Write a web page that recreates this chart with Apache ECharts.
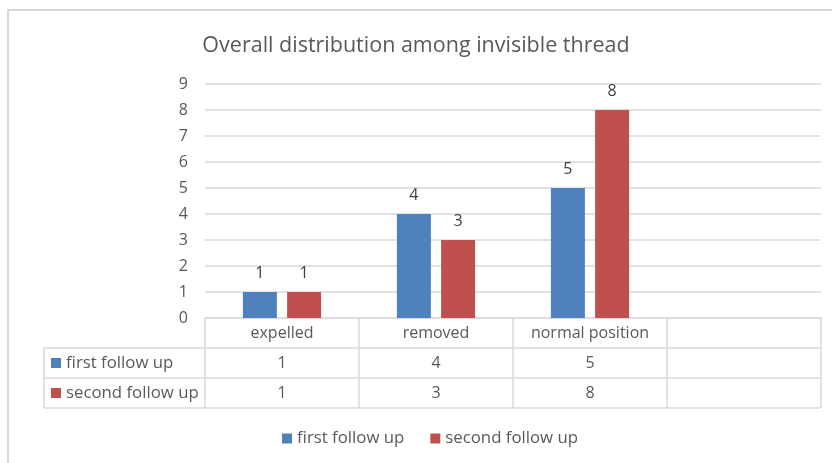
<!DOCTYPE html>
<html>
<head>
<meta charset="utf-8">
<script src="https://cdn.jsdelivr.net/npm/echarts@6/dist/echarts.min.js"></script>
<style>
  html, body { margin: 0; padding: 0; background: #fff; }
  #chart { width: 832px; height: 463px; }
</style>
</head>
<body>
<div id="chart"></div>
<script>
// Outcome counts per category at two follow-up visits
const categories = ['expelled', 'removed', 'normal position', ''];
const seriesNames = ['first follow up', 'second follow up'];
const firstFollowUp = [1, 4, 5, null];
const secondFollowUp = [1, 3, 8, null];
const yTicks = [0, 1, 2, 3, 4, 5, 6, 7, 8, 9];

const FONT = '"Open Sans", "Liberation Sans", Arial, sans-serif';
const TEXT = '#595959';
const LINE = '#d9d9d9';
const BLUE = '#4f81bd';
const RED = '#c0504d';
const FS = 16;
const FS_KEY = 16.8;

const chart = echarts.init(document.getElementById('chart'), null, { renderer: 'canvas' });

const cell = v => (v === null || v === undefined ? '' : String(v));

const option = {
  backgroundColor: '#fff',
  animation: false,
  textStyle: { fontFamily: FONT },
  title: {
    text: 'Overall distribution among invisible thread',
    left: 'center',
    top: 30,
    textStyle: { fontFamily: FONT, fontSize: 21.5, fontWeight: 'normal', color: TEXT }
  },
  grid: { left: 205, right: 11, top: 84, bottom: 145, containLabel: false },
  legend: {
    data: seriesNames,
    left: 277,
    top: 425,
    icon: 'rect',
    itemWidth: 10,
    itemHeight: 10,
    itemGap: 26,
    textStyle: { fontFamily: FONT, fontSize: FS_KEY, color: TEXT }
  },
  xAxis: {
    type: 'category',
    data: categories,
    axisLine: { show: true, lineStyle: { color: LINE, width: 1.5 } },
    axisTick: { show: false },
    axisLabel: {
      interval: 0,
      margin: 0,
      formatter: (value, idx) =>
        '{c|' + value + '}\n{v|' + cell(firstFollowUp[idx]) + '}\n{v|' + cell(secondFollowUp[idx]) + '}',
      rich: {
        c: { fontFamily: FONT, fontSize: FS, color: TEXT, lineHeight: 30, height: 30 },
        v: { fontFamily: FONT, fontSize: FS, color: TEXT, lineHeight: 30, height: 30 }
      }
    }
  },
  yAxis: {
    type: 'value',
    min: yTicks[0],
    max: yTicks[yTicks.length - 1],
    interval: 1,
    axisLine: { show: false },
    axisTick: { show: false },
    axisLabel: { fontFamily: FONT, fontSize: FS, color: TEXT, margin: 17 },
    splitLine: { lineStyle: { color: LINE, width: 1.5 } }
  },
  series: [
    {
      name: seriesNames[0],
      type: 'bar',
      data: firstFollowUp,
      barWidth: 34,
      barGap: '30%',
      itemStyle: { color: BLUE },
      label: { show: true, position: 'top', distance: 11, fontFamily: FONT, fontSize: FS, color: '#404040' }
    },
    {
      name: seriesNames[1],
      type: 'bar',
      data: secondFollowUp,
      barWidth: 34,
      barGap: '30%',
      itemStyle: { color: RED },
      label: { show: true, position: 'top', distance: 11, fontFamily: FONT, fontSize: FS, color: '#404040' }
    }
  ]
};

chart.setOption(option);

// Data table grid, legend keys and the outer chart border
function drawTable() {
  const axisY = chart.convertToPixel({ yAxisIndex: 0 }, 0);
  const c0 = chart.convertToPixel({ xAxisIndex: 0 }, 0);
  const c1 = chart.convertToPixel({ xAxisIndex: 0 }, 1);
  const band = c1 - c0;
  const x0 = c0 - band / 2;
  const xEnd = x0 + band * categories.length;
  const rowH = 30;
  const headLeft = 44;
  const rows = [axisY, axisY + rowH, axisY + rowH * 2, axisY + rowH * 3];
  const lineStyle = { stroke: LINE, lineWidth: 1.5 };
  const els = [];

  // horizontal rules
  for (let r = 1; r < rows.length; r++) {
    els.push({ type: 'line', shape: { x1: headLeft, y1: rows[r], x2: xEnd, y2: rows[r] }, style: lineStyle });
  }
  // vertical rules
  els.push({ type: 'line', shape: { x1: headLeft, y1: rows[1], x2: headLeft, y2: rows[3] }, style: lineStyle });
  for (let i = 0; i <= categories.length; i++) {
    const x = x0 + band * i;
    els.push({ type: 'line', shape: { x1: x, y1: rows[0], x2: x, y2: rows[3] }, style: lineStyle });
  }
  // row headers with series keys
  const colors = [BLUE, RED];
  seriesNames.forEach((name, i) => {
    const cy = rows[i + 1] + rowH / 2;
    els.push({ type: 'rect', shape: { x: 51, y: cy - 5, width: 10, height: 10 }, style: { fill: colors[i] } });
    els.push({
      type: 'text', x: 66, y: cy,
      style: { text: name, fontFamily: FONT, fontSize: FS_KEY, fill: TEXT, verticalAlign: 'middle', align: 'left' }
    });
  });
  // outer border
  els.push({
    type: 'rect', shape: { x: 8, y: 10, width: 900, height: 500 },
    style: { fill: 'none', stroke: LINE, lineWidth: 2 }, z: -1
  });

  chart.setOption({ graphic: els });
}
drawTable();
</script>
</body>
</html>
